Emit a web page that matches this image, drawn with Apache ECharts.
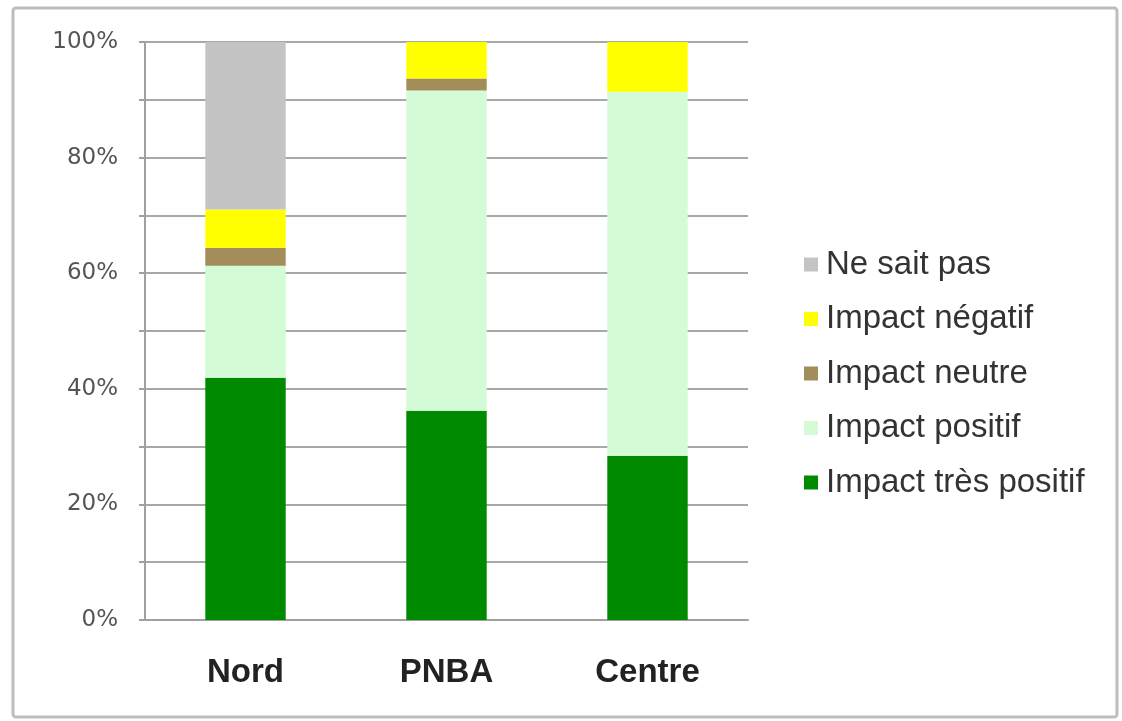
<!DOCTYPE html>
<html>
<head>
<meta charset="utf-8">
<script src="https://cdn.jsdelivr.net/npm/echarts@6/dist/echarts.min.js"></script>
<style>
html,body{margin:0;padding:0;background:#fff;}
#c{width:1122px;height:721px;}
</style>
</head>
<body>
<div id="c"></div>
<script>
const categories = ['Nord', 'PNBA', 'Centre'];
const tresPositif = [41.9, 36.2, 28.4];
const positif = [19.4, 55.4, 63.0];
const neutre = [3.1, 2.1, 0];
const negatif = [6.6, 6.3, 8.6];
const neSaitPas = [29.0, 0, 0];
const legendOrder = ['Ne sait pas', 'Impact négatif', 'Impact neutre', 'Impact positif', 'Impact très positif'];
const yTicks = [0, 20, 40, 60, 80, 100];

const chart = echarts.init(document.getElementById('c'), null, {renderer: 'canvas'});

function bar(name, data, color) {
  return {
    name: name, type: 'bar', stack: 'total', data: data,
    barWidth: '40%',
    itemStyle: {color: color},
    emphasis: {disabled: true}
  };
}

chart.setOption({
  animation: false,
  backgroundColor: '#ffffff',
  graphic: [{
    type: 'rect',
    shape: {x: 13, y: 8, width: 1104, height: 709, r: 3},
    style: {fill: 'none', stroke: '#bdbdbd', lineWidth: 3},
    silent: true, z: -1
  }],
  grid: {left: 145, right: 374, top: 42, bottom: 101},
  legend: {
    orient: 'vertical',
    left: 799, top: 243,
    itemWidth: 14, itemHeight: 14,
    itemGap: 21.5,
    icon: 'rect',
    data: legendOrder,
    textStyle: {fontFamily: 'Liberation Sans, Arial, sans-serif', fontSize: 33, color: '#333', lineHeight: 32, padding: [0, 0, 0, 3]},
    selectedMode: false
  },
  xAxis: {
    type: 'category',
    data: categories,
    axisLine: {lineStyle: {color: '#a0a0a0', width: 2}},
    axisTick: {show: false},
    axisLabel: {fontFamily: 'Liberation Sans, Arial, sans-serif', fontWeight: 'bold', fontSize: 33, color: '#222', margin: 36}
  },
  yAxis: {
    type: 'value', min: 0, max: 100, interval: 10,
    axisLine: {show: true, lineStyle: {color: '#a0a0a0', width: 2}},
    axisTick: {show: true, length: 6, lineStyle: {color: '#a0a0a0', width: 2}},
    splitLine: {show: true, lineStyle: {color: '#a8a8a8', width: 2}},
    axisLabel: {
      fontFamily: 'DejaVu Sans, Verdana, sans-serif', fontSize: 23, color: '#555', margin: 27,
      formatter: function (v) { return yTicks.indexOf(v) >= 0 ? v + '%' : ''; }
    }
  },
  series: [
    bar('Impact très positif', tresPositif, '#008a00'),
    bar('Impact positif', positif, '#d3fbd5'),
    bar('Impact neutre', neutre, '#a28d5b'),
    bar('Impact négatif', negatif, '#ffff00'),
    bar('Ne sait pas', neSaitPas, '#c4c4c4')
  ]
});
</script>
</body>
</html>
